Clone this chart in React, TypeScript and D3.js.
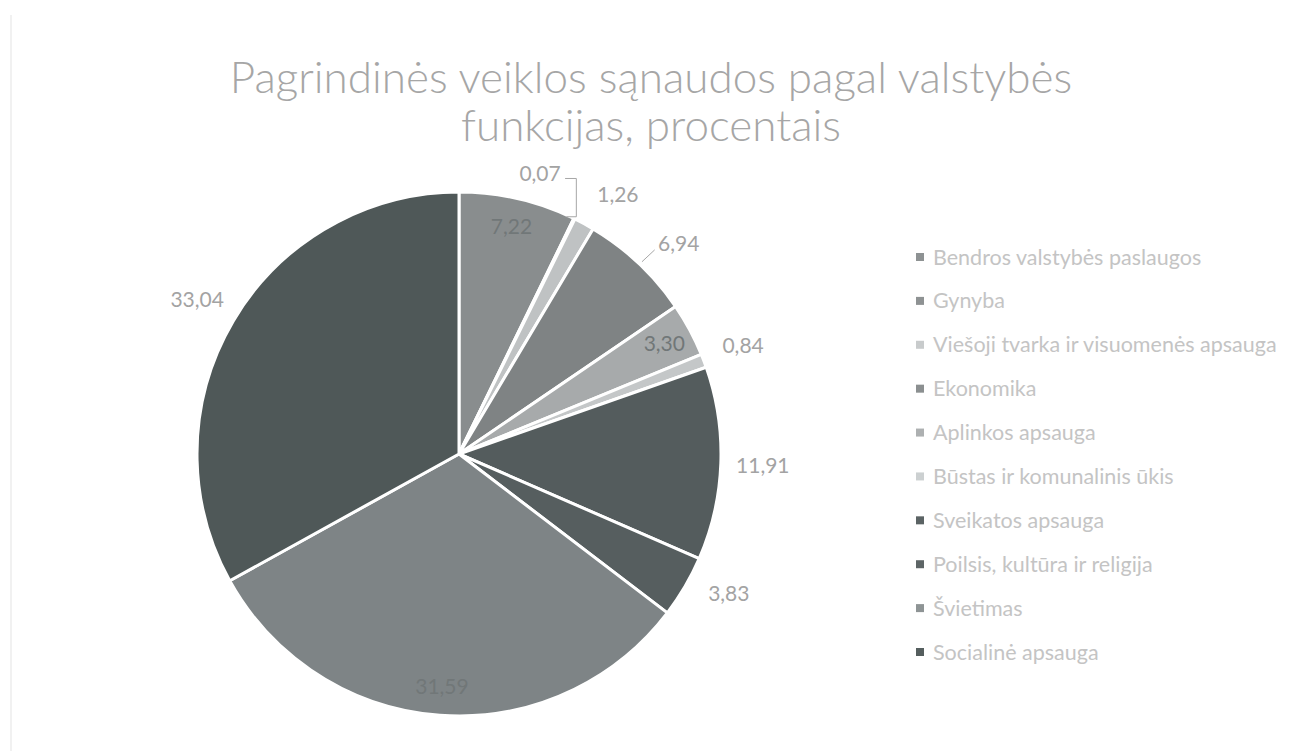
import React from "react";
import * as d3 from "d3";

const categories = [
  "Bendros valstybės paslaugos",
  "Gynyba",
  "Viešoji tvarka ir visuomenės apsauga",
  "Ekonomika",
  "Aplinkos apsauga",
  "Būstas ir komunalinis ūkis",
  "Sveikatos apsauga",
  "Poilsis, kultūra ir religija",
  "Švietimas",
  "Socialinė apsauga",
];
const values = [7.22, 0.07, 1.26, 6.94, 3.3, 0.84, 11.91, 3.83, 31.59, 33.04];
const titleLines = ["Pagrindinės veiklos sąnaudos pagal valstybės", "funkcijas, procentais"];

// styling / layout (not data)
const sliceColors = ["#898d8e", "#868a8b", "#bfc2c3", "#7f8384", "#a7aaab", "#c4c7c8", "#545c5d", "#565e5f", "#7e8486", "#4f5858"];
const legendColors = ["#8e9293", "#8e9293", "#c8cbcc", "#8b8f90", "#adb0b1", "#ccd0d1", "#5b6364", "#5d6566", "#8e9495", "#555e5e"];
const labelInside = [true, false, false, false, true, false, false, false, true, false];
const labelAngleShift = [0, -10, 3, 3, 0, 0, 0, -3, 0, 0];
const labelPad = [0, 30, 42, 42, 0, 42, 42, 42, 0, 42];

const W = 1296, H = 751;
const cx = 459, cy = 454, R = 262;

export default function App() {
  const pie = d3.pie<number>().sort(null).value((d) => d)(values);
  const arc = d3.arc<d3.PieArcDatum<number>>().innerRadius(0).outerRadius(R);
  const fmt = (v: number) => d3.format(".2f")(v).replace(".", ",");
  const toRad = (deg: number) => (deg * Math.PI) / 180;
  const polar = (ang: number, r: number) => [Math.sin(ang) * r, -Math.cos(ang) * r];
  const labelPos = (i: number) => {
    const p = pie[i];
    const mid = (p.startAngle + p.endAngle) / 2;
    if (labelInside[i]) return polar(mid, R * 0.89);
    return polar(mid + toRad(labelAngleShift[i]), R + labelPad[i]);
  };

  const legendY = d3.scaleLinear().domain([0, categories.length - 1]).range([257, 652]);

  return (
    <svg width={W} height={H} style={{ position: "absolute", left: 0, top: 0, background: "#fff" }}
      fontFamily="Lato, 'Open Sans', sans-serif">
      <rect x={0} y={0} width={W} height={H} fill="#fff" />
      <line x1={11} y1={15} x2={11} y2={H} stroke="#ececec" strokeWidth={1.5} />
      {titleLines.map((t, i) => (
        <text key={i} x={651} y={93 + i * 48} textAnchor="middle" fontSize={44} fill="#a6a6a6" fontWeight={300}>
          {t}
        </text>
      ))}
      <g transform={`translate(${cx},${cy})`}>
        {pie.map((p, i) => (
          <path key={i} d={arc(p) || ""} fill={sliceColors[i]} stroke="#fff" strokeWidth={3} strokeLinejoin="round" />
        ))}
        {pie.map((p, i) => {
          const [x, y] = labelPos(i);
          return (
            <text key={i} x={x} y={y} dy="0.35em" textAnchor="middle" fontSize={21}
              fill={labelInside[i] ? "#717778" : "#a3a3a3"}>
              {fmt(values[i])}
            </text>
          );
        })}
        {/* leader lines */}
        {(() => {
          const p = pie[1];
          const mid = (p.startAngle + p.endAngle) / 2;
          const [x0, y0] = polar(mid, R);
          const [lx, ly] = labelPos(1);
          return (
            <polyline points={`${x0 - 8},${y0 - 2} ${x0 + 2},${y0 - 2} ${x0 + 2},${ly + 5} ${lx + 25},${ly + 5}`}
              fill="none" stroke="#a6a6a6" strokeWidth={1} />
          );
        })()}
        {(() => {
          const p = pie[3];
          const mid = (p.startAngle + p.endAngle) / 2;
          const [x0, y0] = polar(mid, R + 2);
          const [lx, ly] = labelPos(3);
          return (
            <line x1={x0 + 2} y1={y0} x2={lx - 24} y2={ly + 6} stroke="#a6a6a6" strokeWidth={1} />
          );
        })()}
      </g>
      {categories.map((c, i) => (
        <g key={i} transform={`translate(0,${legendY(i)})`}>
          <rect x={916} y={-4} width={8} height={8} fill={legendColors[i]} />
          <text x={933} y={0} dy="0.35em" fontSize={21.5} fill="#c4c4c4">{c}</text>
        </g>
      ))}
    </svg>
  );
}
